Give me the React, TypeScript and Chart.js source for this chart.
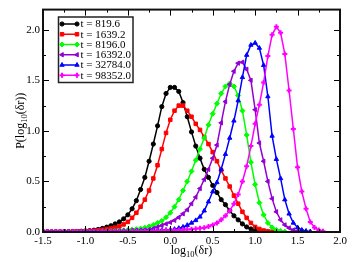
import React, { useEffect, useRef } from 'react';
import { Chart, registerables } from 'chart.js';
import { drawPoint } from 'chart.js/helpers';

Chart.register(...registerables);

const X = [
  -1.5, -1.45, -1.4, -1.35, -1.3, -1.25, -1.2, -1.15, -1.1, -1.05,
  -1.0, -0.95, -0.9, -0.85, -0.8, -0.75, -0.7, -0.65, -0.6, -0.55,
  -0.5, -0.45, -0.4, -0.35, -0.3, -0.25, -0.2, -0.15, -0.1, -0.05,
  0.0, 0.05, 0.1, 0.15, 0.2, 0.25, 0.3, 0.35, 0.4, 0.45,
  0.5, 0.55, 0.6, 0.65, 0.7, 0.75, 0.8, 0.85, 0.9, 0.95,
  1.0, 1.05, 1.1, 1.15, 1.2, 1.25, 1.3, 1.35, 1.4, 1.45,
  1.5, 1.55, 1.6, 1.65, 1.7, 1.75, 1.8,
];

const T819 = [
  0.001, 0.001, 0.001, 0.002, 0.002, 0.003, 0.004, 0.005, 0.006, 0.008,
  0.01, 0.013, 0.018, 0.025, 0.035, 0.048, 0.062, 0.08, 0.1, 0.13,
  0.17, 0.23, 0.31, 0.42, 0.54, 0.7, 0.87, 1.05, 1.24, 1.37,
  1.43, 1.43, 1.39, 1.28, 1.14, 0.99, 0.85, 0.73, 0.62, 0.54,
  0.46, 0.39, 0.32, 0.27, 0.21, 0.16, 0.12, 0.08, 0.05, 0.03,
  0.016, 0.008, 0.003, null, null, null, null, null, null, null,
  null, null, null, null, null, null, null,
];

const T1639 = [
  0.001, 0.001, 0.001, 0.001, 0.002, 0.002, 0.003, 0.004, 0.005, 0.006,
  0.008, 0.01, 0.013, 0.017, 0.022, 0.028, 0.035, 0.043, 0.055, 0.075,
  0.1, 0.14, 0.19, 0.25, 0.32, 0.41, 0.53, 0.66, 0.82, 0.98,
  1.11, 1.2, 1.25, 1.25, 1.2, 1.14, 1.07, 1.01, 0.94, 0.87,
  0.79, 0.7, 0.61, 0.53, 0.45, 0.36, 0.28, 0.2, 0.14, 0.09,
  0.05, 0.03, 0.015, 0.008, 0.003, null, null, null, null, null,
  null, null, null, null, null, null, null,
];

const T8196 = [
  0.001, 0.001, 0.001, 0.001, 0.001, 0.001, 0.002, 0.002, 0.002, 0.003,
  0.003, 0.004, 0.005, 0.006, 0.007, 0.008, 0.01, 0.012, 0.014, 0.017,
  0.02, 0.024, 0.028, 0.034, 0.042, 0.055, 0.07, 0.09, 0.11, 0.145,
  0.19, 0.25, 0.32, 0.41, 0.5, 0.6, 0.71, 0.82, 0.93, 1.06,
  1.17, 1.27, 1.37, 1.44, 1.47, 1.44, 1.35, 1.2, 0.96, 0.69,
  0.47, 0.29, 0.17, 0.09, 0.045, 0.02, 0.01, 0.004, null, null,
  null, null, null, null, null, null, null,
];

const T16392 = [
  0.001, 0.001, 0.001, 0.001, 0.001, 0.001, 0.001, 0.001, 0.002, 0.002,
  0.002, 0.003, 0.003, 0.004, 0.004, 0.005, 0.006, 0.007, 0.008, 0.009,
  0.01, 0.012, 0.014, 0.016, 0.019, 0.024, 0.034, 0.05, 0.065, 0.08,
  0.095, 0.115, 0.145, 0.18, 0.22, 0.28, 0.345, 0.43, 0.52, 0.62,
  0.73, 0.86, 1.08, 1.29, 1.46, 1.59, 1.67, 1.68, 1.61, 1.5,
  1.21, 0.88, 0.7, 0.5, 0.33, 0.2, 0.12, 0.07, 0.04, 0.02,
  0.01, 0.005, null, null, null, null, null,
];

const T32784 = [
  0.002, 0.002, 0.002, 0.002, 0.002, 0.003, 0.003, 0.003, 0.003, 0.004,
  0.004, 0.004, 0.005, 0.005, 0.005, 0.006, 0.006, 0.007, 0.007, 0.008,
  0.008, 0.009, 0.01, 0.011, 0.012, 0.013, 0.014, 0.016, 0.018, 0.02,
  0.022, 0.028, 0.038, 0.05, 0.068, 0.09, 0.115, 0.15, 0.21, 0.3,
  0.4, 0.49, 0.62, 0.77, 0.93, 1.1, 1.3, 1.53, 1.75, 1.85,
  1.87, 1.82, 1.65, 1.34, 0.95, 0.72, 0.53, 0.32, 0.18, 0.09,
  0.045, 0.02, 0.01, 0.005, null, null, null,
];

const T98352 = [
  0.002, 0.002, 0.002, 0.002, 0.002, 0.002, 0.002, 0.002, 0.002, 0.002,
  0.002, 0.003, 0.003, 0.003, 0.004, 0.004, 0.004, 0.005, 0.005, 0.006,
  0.006, 0.007, 0.007, 0.008, 0.009, 0.01, 0.011, 0.012, 0.013, 0.014,
  0.015, 0.017, 0.02, 0.022, 0.025, 0.028, 0.032, 0.036, 0.042, 0.055,
  0.07, 0.088, 0.12, 0.16, 0.21, 0.28, 0.37, 0.5, 0.65, 0.85,
  1.07, 1.26, 1.48, 1.74, 1.95, 2.03, 1.97, 1.76, 1.4, 1.02,
  0.64, 0.4, 0.23, 0.1, 0.045, 0.02, 0.008,
];

const SERIES = [T819, T1639, T8196, T16392, T32784, T98352];
const LABELS = ['t = 819.6', 't = 1639.2', 't = 8196.0', 't = 16392.0', 't = 32784.0', 't = 98352.0'];
const COLORS = ['#000000', '#ff0000', '#00ff00', '#9400d3', '#0000ff', '#ff00ff'];
const STYLES = ['circle', 'rect', 'rectRot', 'triangle', 'triangle', 'cross'];
const ROTATIONS = [0, 0, 0, -90, 0, 0];
const RADII = [2.1, 2.5, 2.5, 2.5, 2.5, 2.5];
const BORDERS = [1, 1, 1, 1, 1, 2];

const X_MIN = -1.5;
const X_MAX = 2.0;
const Y_MIN = 0;
const Y_MAX = 2.2;
const MAJOR_STEP = 0.5;

const SERIF = '"Liberation Serif", "Times New Roman", serif';

function drawRich(ctx: CanvasRenderingContext2D, parts: { t: string; sub?: boolean }[], cx: number, base: number) {
  const main = `12px ${SERIF}`;
  const sub = `8.5px ${SERIF}`;
  let total = 0;
  for (const p of parts) {
    ctx.font = p.sub ? sub : main;
    total += ctx.measureText(p.t).width;
  }
  let x = cx - total / 2;
  for (const p of parts) {
    ctx.font = p.sub ? sub : main;
    ctx.fillText(p.t, x, p.sub ? base + 3 : base);
    x += ctx.measureText(p.t).width;
  }
}

const decorPlugin = {
  id: 'decor',
  afterDraw(chart: any) {
    const { ctx, chartArea } = chart;
    const { left, right, top, bottom } = chartArea;
    const xs = chart.scales.x;
    const ys = chart.scales.y;
    ctx.save();
    ctx.strokeStyle = '#000';
    ctx.lineWidth = 1;
    const xt = xs.ticks.map((t: any) => t.value);
    const yt = ys.ticks.map((t: any) => t.value);
    const xMinor: number[] = [];
    for (let i = 0; i < xt.length - 1; i++) xMinor.push((xt[i] + xt[i + 1]) / 2);
    const yMinor: number[] = [];
    for (let i = 0; i < yt.length - 1; i++) yMinor.push((yt[i] + yt[i + 1]) / 2);
    yMinor.push(yt[yt.length - 1] + MAJOR_STEP / 2);
    ctx.beginPath();
    xt.forEach((v: number) => {
      const p = Math.round(xs.getPixelForValue(v)) + 0.5;
      ctx.moveTo(p, bottom); ctx.lineTo(p, bottom - 6);
      ctx.moveTo(p, top); ctx.lineTo(p, top + 6);
    });
    xMinor.forEach((v: number) => {
      const p = Math.round(xs.getPixelForValue(v)) + 0.5;
      ctx.moveTo(p, bottom); ctx.lineTo(p, bottom - 3);
      ctx.moveTo(p, top); ctx.lineTo(p, top + 3);
    });
    yt.forEach((v: number) => {
      const p = Math.round(ys.getPixelForValue(v)) + 0.5;
      ctx.moveTo(left, p); ctx.lineTo(left + 6, p);
      ctx.moveTo(right, p); ctx.lineTo(right - 6, p);
    });
    yMinor.forEach((v: number) => {
      if (v > Y_MAX) return;
      const p = Math.round(ys.getPixelForValue(v)) + 0.5;
      ctx.moveTo(left, p); ctx.lineTo(left + 3, p);
      ctx.moveTo(right, p); ctx.lineTo(right - 3, p);
    });
    ctx.stroke();
    ctx.lineWidth = 2;
    ctx.strokeStyle = '#111';
    ctx.strokeRect(left, top, right - left, bottom - top);

    const bx = 58.5, by = 17, bw = 74.5, bh = 65.5;
    ctx.fillStyle = '#fff';
    ctx.fillRect(bx, by, bw, bh);
    ctx.lineWidth = 1.5;
    ctx.strokeStyle = '#222';
    ctx.strokeRect(bx, by, bw, bh);
    ctx.font = `11px ${SERIF}`;
    ctx.textBaseline = 'middle';
    ctx.textAlign = 'left';
    LABELS.forEach((lab, i) => {
      const yy = 24 + i * 10.25;
      ctx.strokeStyle = COLORS[i];
      ctx.fillStyle = COLORS[i];
      ctx.lineWidth = 1.5;
      ctx.beginPath();
      ctx.moveTo(62, yy); ctx.lineTo(77, yy);
      ctx.stroke();
      const opts = { pointStyle: STYLES[i], rotation: ROTATIONS[i], radius: RADII[i], borderWidth: BORDERS[i] };
      ctx.lineWidth = BORDERS[i];
      drawPoint(ctx, opts as any, 62, yy);
      drawPoint(ctx, opts as any, 77, yy);
      ctx.fillStyle = '#000';
      ctx.fillText(lab, 80.5, yy + 0.5);
    });

    ctx.fillStyle = '#000';
    ctx.textBaseline = 'alphabetic';
    ctx.textAlign = 'left';
    drawRich(ctx, [{ t: 'log' }, { t: '10', sub: true }, { t: '(\u03b4r)' }], (left + right) / 2, 254);
    ctx.save();
    ctx.translate(24, (top + bottom) / 2);
    ctx.rotate(-Math.PI / 2);
    drawRich(ctx, [{ t: 'P(log' }, { t: '10', sub: true }, { t: '(\u03b4r))' }], 0, 0);
    ctx.restore();
    ctx.restore();
  },
};

export default function App() {
  const ref = useRef<HTMLCanvasElement | null>(null);
  useEffect(() => {
    if (!ref.current) return;
    const datasets = SERIES.map((s, i) => ({
      label: LABELS[i],
      data: X.map((x, j) => ({ x, y: s[j] })).filter((p) => p.y !== null),
      borderColor: COLORS[i],
      backgroundColor: COLORS[i],
      borderWidth: 1.5,
      pointStyle: STYLES[i],
      pointRotation: ROTATIONS[i],
      pointRadius: RADII[i],
      pointBorderWidth: BORDERS[i],
      pointBackgroundColor: COLORS[i],
      pointBorderColor: COLORS[i],
      tension: 0,
      order: SERIES.length - i,
    }));
    const chart = new Chart(ref.current, {
      type: 'line',
      data: { datasets },
      plugins: [decorPlugin],
      options: {
        animation: false,
        responsive: false,
        maintainAspectRatio: false,
        layout: { padding: { top: 5, right: 14, left: 0, bottom: 0 } },
        plugins: { legend: { display: false }, tooltip: { enabled: false } },
        scales: {
          x: {
            type: 'linear',
            min: X_MIN,
            max: X_MAX,
            grid: { display: false, drawTicks: false },
            border: { display: false },
            ticks: {
              stepSize: MAJOR_STEP,
              padding: 3,
              color: '#000',
              font: { family: SERIF, size: 11 },
              maxRotation: 0,
              autoSkip: false,
              callback: (v: any) => Number(v).toFixed(1),
            },
            afterBuildTicks: (s: any) => {
              s.ticks = s.ticks.filter((t: any) => Math.abs(t.value / MAJOR_STEP - Math.round(t.value / MAJOR_STEP)) < 1e-6);
            },
            afterFit: (s: any) => { s.height = 30; },
          },
          y: {
            type: 'linear',
            min: Y_MIN,
            max: Y_MAX,
            grid: { display: false, drawTicks: false },
            border: { display: false },
            ticks: {
              stepSize: MAJOR_STEP,
              padding: 3,
              color: '#000',
              font: { family: SERIF, size: 11 },
              autoSkip: false,
              callback: (v: any) => Number(v).toFixed(1),
            },
            afterBuildTicks: (s: any) => {
              s.ticks = s.ticks.filter((t: any) => Math.abs(t.value / MAJOR_STEP - Math.round(t.value / MAJOR_STEP)) < 1e-6);
            },
            afterFit: (s: any) => { s.width = 43; },
          },
        },
      } as any,
    });
    return () => chart.destroy();
  }, []);
  return (
    <div style={{ position: 'fixed', left: 0, top: 0, width: 354, height: 262, background: '#fff' }}>
      <canvas ref={ref} width={354} height={262} style={{ width: 354, height: 262, display: 'block' }} />
    </div>
  );
}
